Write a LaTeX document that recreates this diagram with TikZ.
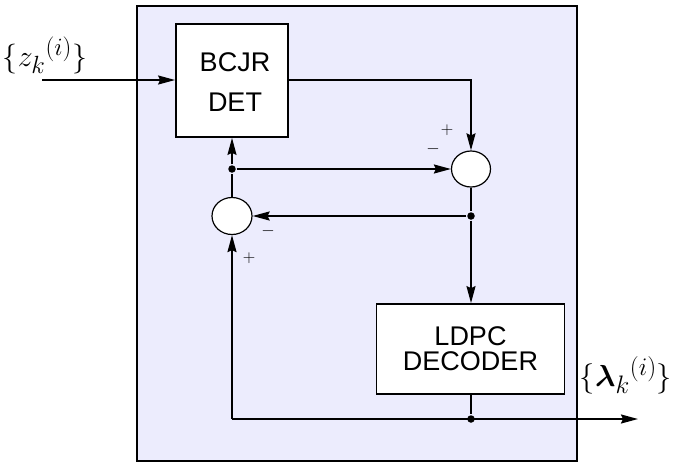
\documentclass[tikz,border=0pt]{standalone}
\usepackage{amsmath,bm,graphicx}
\usepackage{fontspec}
\newfontfamily\boxfont{Liberation Sans}
\usetikzlibrary{arrows.meta,shapes.geometric}
\definecolor{lav}{RGB}{236,236,253}
\begin{document}
\begin{tikzpicture}[x=1pt,y=-1pt,line width=1.8pt,
  blk/.style={draw,fill=white,line width=1.8pt,inner sep=0pt,font=\boxfont\fontsize{27}{27}\selectfont,align=center},
  summer/.style={draw,fill=white,ellipse,line width=1.2pt,minimum width=39pt,minimum height=36pt,inner sep=0pt},
  arr/.style={-{Stealth[length=17pt,width=9pt,inset=2pt]}},
  dotn/.style={circle,fill=black,inner sep=0pt,minimum size=7.5pt},
  sgn/.style={font=\fontsize{17.28}{18}\selectfont,inner sep=0pt},
  lbl/.style={font=\fontsize{24.88}{30}\selectfont,inner sep=0pt}]
\useasboundingbox (0,0) rectangle (673,464);
\draw[fill=lav,line width=1.8pt] (137,6) rectangle (577,461);
% blocks
\node[blk,minimum width=112pt,minimum height=113pt] (bcjr) at (232,80.5) {};
\node[font=\boxfont\fontsize{27}{40}\selectfont,align=center,inner sep=0pt] (bcjrt) at (235,82) {BCJR\\DET};
\node[blk,minimum width=188pt,minimum height=90pt,font=\boxfont\fontsize{27}{25}\selectfont] (ldpc) at (470.5,349) {LDPC\\DECODER};
% summers
\node[summer] (s1) at (471,169) {};
\node[summer,minimum width=40pt,minimum height=37pt] (s2) at (232,216) {};
% junctions
\node[dotn] (d1) at (232,169) {};
\node[dotn] (d2) at (471,216) {};
\node[dotn] (d3) at (471,419) {};
\coordinate (in) at (42,80);
\coordinate (out) at (638,419);
\coordinate (c1) at (471,80);
\coordinate (c2) at (232,419);
% labels
\node[lbl] (zl) at (45,55) {\scalebox{1.2}{$\{{z_k}^{(i)}\}$}};
\node[lbl] (ll) at (626,375) {\scalebox{1.22}{$\{{\bm{\lambda}_k}^{(i)}\}$}};
\node[sgn] (p1) at (447,130) {$+$};
\node[sgn] (m1) at (433,149) {$-$};
\node[sgn] (m2) at (268,231) {$-$};
\node[sgn] (p2) at (249,258) {$+$};
% connectors
\draw[arr] (in) -- (bcjr.west |- in);
\draw[arr] (bcjr.east |- c1) -- (c1) -- (s1.north);
\draw[arr] (d1) -- (s1.west);
\draw[arr] (d1) -- (bcjr.south -| d1);
\draw (s2.north) -- (d1);
\draw (s1.south) -- (d2);
\draw[arr] (d2) -- (s2.east);
\draw[arr] (d2) -- (ldpc.north -| d2);
\draw (ldpc.south -| d3) -- (d3);
\draw[arr] (c2) -- (out);
\draw[arr] (c2) -- (s2.south);
\end{tikzpicture}
\end{document}
